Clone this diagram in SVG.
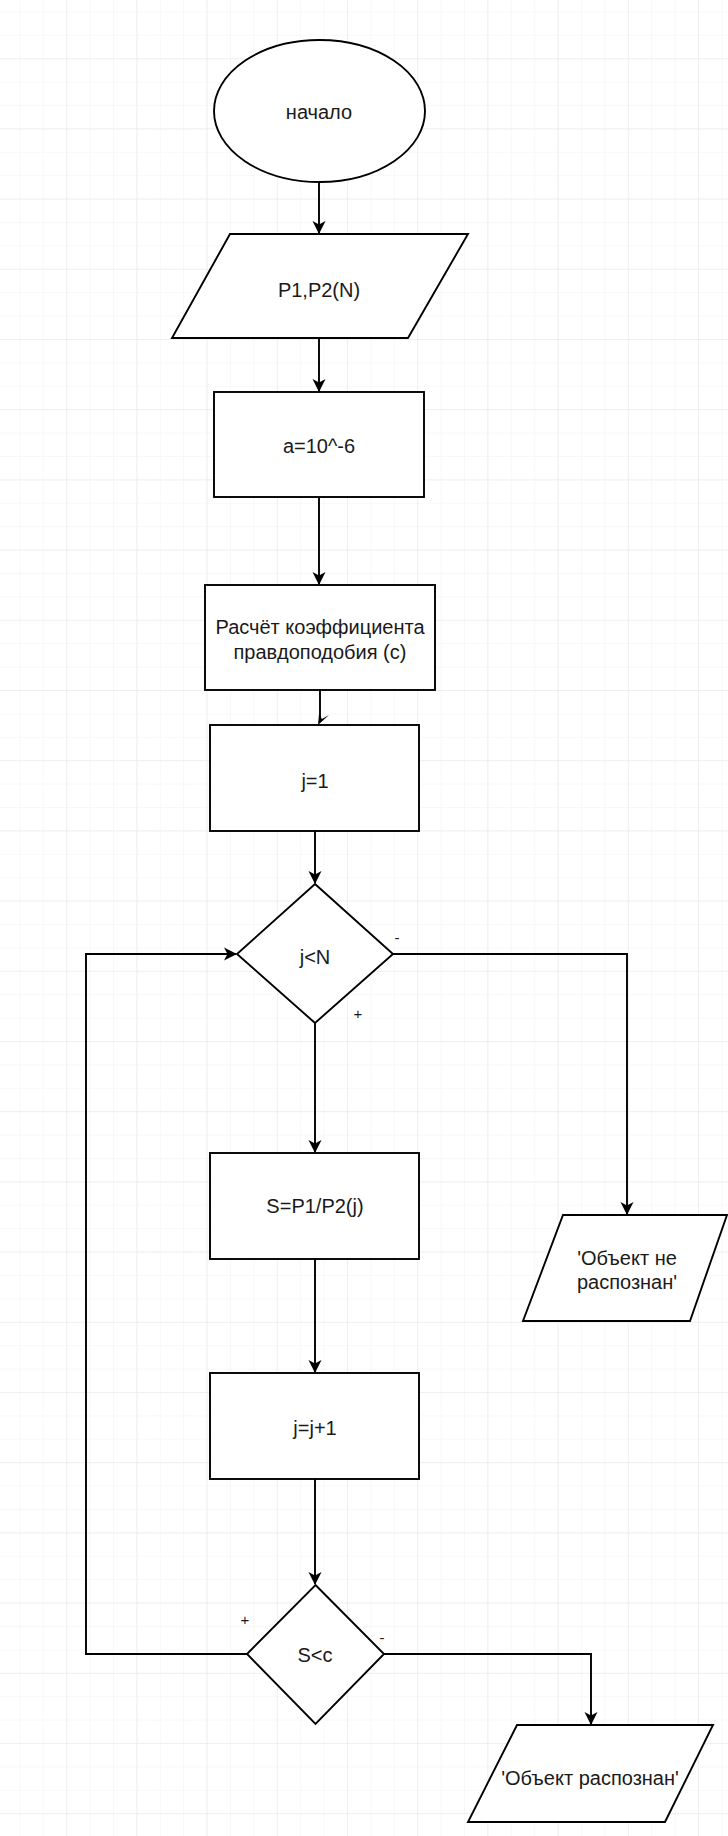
<svg xmlns="http://www.w3.org/2000/svg" width="728" height="1836" viewBox="0 0 728 1836">
<style>
.shape{fill:#ffffff;stroke:#000000;stroke-width:1.9}
.edge{fill:none;stroke:#000000;stroke-width:1.9}
.t{font-family:"Liberation Sans",Arial,sans-serif;font-size:20px;fill:#1a1a1a;text-anchor:middle}
.lbl{font-family:"Liberation Sans",Arial,sans-serif;font-size:15px;fill:#1a1a1a;text-anchor:middle}
</style>
<defs>
<pattern id="minor" width="23.4" height="23.4" patternUnits="userSpaceOnUse" x="-4" y="-12">
<path d="M23.4 0 L0 0 0 23.4" fill="none" stroke="#f1f1f1" stroke-width="1"/>
</pattern>
<pattern id="major" width="70.2" height="70.2" patternUnits="userSpaceOnUse" x="-4" y="-12">
<path d="M70.2 0 L0 0 0 70.2" fill="none" stroke="#e6e6e6" stroke-width="1"/>
</pattern>
<marker id="arr" markerWidth="14" markerHeight="14" refX="12" refY="6.5" orient="auto" markerUnits="userSpaceOnUse" viewBox="0 0 14 13">
<path d="M0,0 L13,6.5 L0,13 L3.5,6.5 z" fill="#000"/>
</marker>
</defs>
<rect width="728" height="1836" fill="#ffffff"/>
<rect width="728" height="1836" fill="url(#minor)"/>
<rect width="728" height="1836" fill="url(#major)"/>

<g id="connectors">
<path class="edge" d="M319 182 L319 233" marker-end="url(#arr)"/>
<path class="edge" d="M319 338 L319 391" marker-end="url(#arr)"/>
<path class="edge" d="M319 497 L319 584" marker-end="url(#arr)"/>
<path class="edge" d="M320 690 L320 722"/>
<path d="M318 725 L319 714 L322 719 L329 715 Z" fill="#000"/>
<path class="edge" d="M315 831 L315 883" marker-end="url(#arr)"/>
<path class="edge" d="M315 1023 L315 1152" marker-end="url(#arr)"/>
<path class="edge" d="M315 1259 L315 1372" marker-end="url(#arr)"/>
<path class="edge" d="M315 1479 L315 1584" marker-end="url(#arr)"/>
<path class="edge" d="M393 954 L627 954 L627 1214" marker-end="url(#arr)"/>
<path class="edge" d="M247 1654 L86 1654 L86 954 L236 954" marker-end="url(#arr)"/>
<path class="edge" d="M384 1654 L591 1654 L591 1724" marker-end="url(#arr)"/>
<text class="lbl" x="397" y="943">-</text>
<text class="lbl" x="358" y="1019">+</text>
<text class="lbl" x="245" y="1625">+</text>
<text class="lbl" x="382" y="1643">-</text>
</g>

<g id="start">
<ellipse class="shape" cx="319.5" cy="111" rx="105.5" ry="71"/>
<text class="t" x="319" y="119">начало</text>
</g>

<g id="input">
<polygon class="shape" points="230,234 468,234 408,338 172,338"/>
<text class="t" x="319" y="297">P1,P2(N)</text>
</g>

<g id="a-init">
<rect class="shape" x="214" y="392" width="210" height="105"/>
<text class="t" x="319" y="453">a=10^-6</text>
</g>

<g id="calc-c">
<rect class="shape" x="205" y="585" width="230" height="105"/>
<text class="t" x="320" y="634">Расчёт коэффициента</text>
<text class="t" x="320" y="659">правдоподобия (с)</text>
</g>

<g id="j-init">
<rect class="shape" x="210" y="725" width="209" height="106"/>
<text class="t" x="315" y="788">j=1</text>
</g>

<g id="cond-jn">
<polygon class="shape" points="315,884 393,954 315,1023 237,954"/>
<text class="t" x="315" y="964">j&lt;N</text>
</g>

<g id="s-calc">
<rect class="shape" x="210" y="1153" width="209" height="106"/>
<text class="t" x="315" y="1213">S=P1/P2(j)</text>
</g>

<g id="j-inc">
<rect class="shape" x="210" y="1373" width="209" height="106"/>
<text class="t" x="315" y="1435">j=j+1</text>
</g>

<g id="cond-sc">
<polygon class="shape" points="315.5,1585 384,1654 315.5,1724 247,1654"/>
<text class="t" x="315" y="1662">S&lt;c</text>
</g>

<g id="not-recognized">
<polygon class="shape" points="563,1215 727,1215 690,1321 523,1321"/>
<text class="t" x="627" y="1265">'Объект не</text>
<text class="t" x="627" y="1289">распознан'</text>
</g>

<g id="recognized">
<polygon class="shape" points="517,1725 713,1725 665,1822 468,1822"/>
<text class="t" x="590" y="1785">'Объект распознан'</text>
</g>
</svg>
